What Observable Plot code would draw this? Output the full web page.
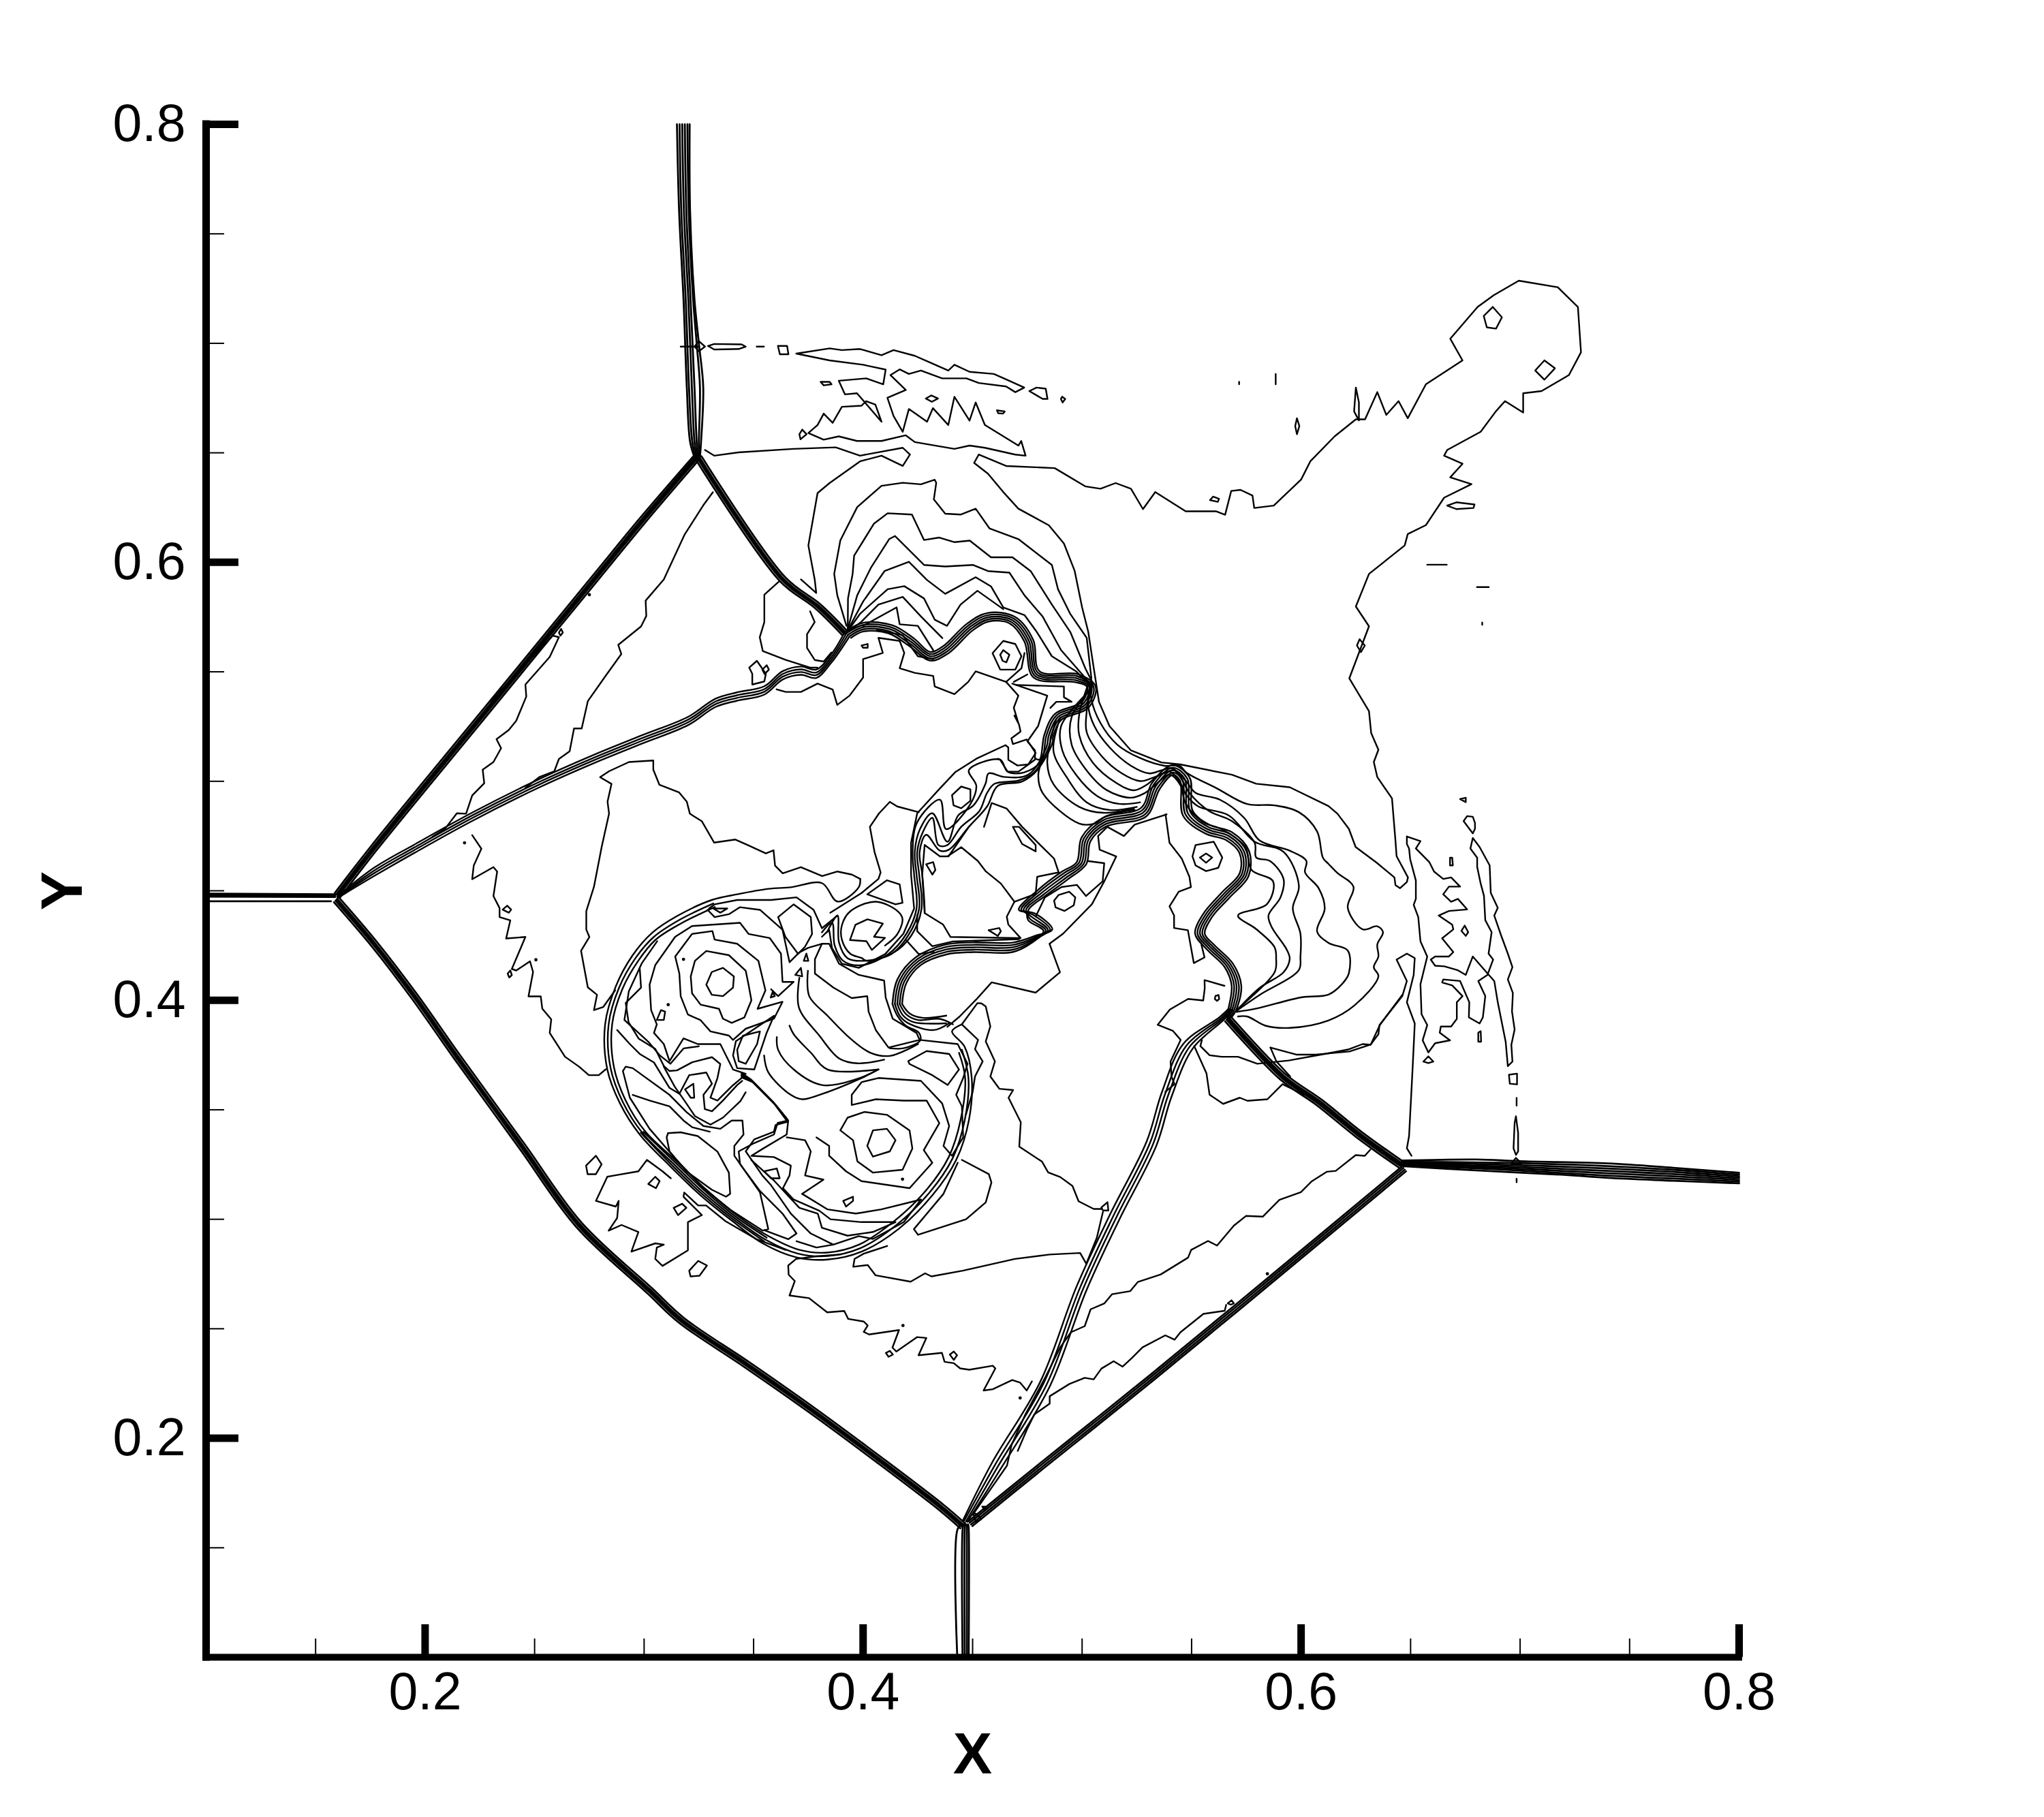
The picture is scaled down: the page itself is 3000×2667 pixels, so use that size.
<!DOCTYPE html>
<html><head><meta charset="utf-8">
<style>html,body{margin:0;padding:0;background:#fff}svg{display:block}</style>
<script src="https://cdn.jsdelivr.net/npm/d3@7"></script>
<script src="https://cdn.jsdelivr.net/npm/@observablehq/plot@0.6"></script>
</head><body><div id="chart"></div>
<script>
// All contour values are (x, y) pairs in thousandths of the axis units.
const majorTicks=[0.2,0.4,0.6,0.8];
const minorTicks=[0.15,0.25,0.3,0.35,0.45,0.5,0.55,0.65,0.7,0.75];
const specks=[275,585.2,584.6,275.1,418.2,251.5,471.7,218.4,318,418.7,418,318.3,218,471.9,250.6,418.5,311,398];

const leftShock1=[100,448.7,159,448.4];const leftShock2=[100,448,159,447.8];const leftShock3=[100,447.3,159,447.2];const leftShock4=[100,445.2,157,445.2];
const topShock1=[315,800,316,760,318,720,319.5,680,321,655,323,648];
const topShock2=[316.2,800,317,760,319,720,320.5,680,322,655,323.5,648];
const topShock3=[317.4,800,318.2,760,320.2,720,321.8,680,323,655,324,648];
const topShock4=[318.6,800,319.3,760,321.2,720,323,680,324,655,324.5,648];
const topShock5=[319.8,800,320.4,760,322.4,720,324,700,325.5,680,325,655,325,648];
const topShock6=[320.8,800,321,760,323,720,325,700,327,680,326,655,325.4,647];
const diag1=[158.8,449,175.8,471,225.8,532,275.8,593,298.8,621,323,649];
const diag2=[159.5,448.4,176.5,470.4,226.5,531.4,276.5,592.4,299.5,620.4,323.5,648.4];
const diag3=[160,448,177,470,227,531,277,592,300,620,324,648];
const diag4=[160.4,447.6,177.5,469.6,227.5,530.6,277.5,591.6,300.5,619.6,324.5,647.6];
const diag5=[161.2,447,178.2,469,228.2,530,278.2,591,301.2,619,325.2,647];
const fanShock1=[323.8,646.6,362.1,591.3,378,579.1,390.5,566.7];
const fanShock2=[324.6,647.2,362.9,591.9,378.8,579.7,391.3,567.3];
const fanShock3=[325,647.5,363.3,592.2,379.2,580,391.7,567.6];
const fanShock4=[325.4,647.8,363.7,592.5,379.6,580.3,392.1,567.9];
const fanShock5=[326.2,648.4,364.5,593.1,380.4,580.9,392.9,568.5];
const lowShock1=[158.4,444.8,175.9,424.3,194,400.7,213.4,373.2,242.9,332.6,269.2,296.3,301.4,266.3,315.9,252.8,345.7,232.6,375.4,211.8,405.2,189.8,434.9,167.1,444.4,158.9];
const lowShock2=[159.1,445.5,176.6,425,194.7,401.4,214.1,373.9,243.6,333.3,269.9,297,302.1,267,316.6,253.5,346.4,233.3,376.1,212.5,405.9,190.5,435.6,167.8,445.1,159.6];
const lowShock3=[159.5,445.9,177,425.4,195.1,401.8,214.5,374.3,244,333.7,270.3,297.4,302.5,267.4,317,253.9,346.8,233.7,376.5,212.9,406.3,190.9,436,168.2,445.5,160];
const lowShock4=[159.9,446.3,177.4,425.8,195.5,402.2,214.9,374.7,244.4,334.1,270.7,297.8,302.9,267.8,317.4,254.3,347.2,234.1,376.9,213.3,406.7,191.3,436.4,168.6,445.9,160.4];
const lowShock5=[160.6,447,178.1,426.5,196.2,402.9,215.6,375.4,245.1,334.8,271.4,298.5,303.6,268.5,318.1,255,347.9,234.8,377.6,214,407.4,192,437.1,169.3,446.6,161.1];
const bottomShock1=[443,100,443,158,445,161];const bottomShock2=[445.4,100,445.4,158,445.8,160.6];const bottomShock3=[446.4,100,446.4,158,446.6,160.6];const bottomShock4=[447.4,100,447.4,159,447.4,160.6];const bottomShock5=[448.2,100,448.2,159,448,160.6];
const brShock1=[448.1,162.1,480.8,188.6,502.7,206.1,530.8,228.7,586.4,274.5,646.1,324.1];
const brShock2=[448.7,161.4,481.4,187.9,503.3,205.4,531.4,228,587,273.8,646.7,323.4];
const brShock3=[449.3,160.6,482,187.1,503.9,204.6,532,227.2,587.6,273,647.3,322.6];
const brShock4=[449.9,159.9,482.6,186.4,504.5,203.9,532.6,226.5,588.2,272.3,647.9,321.9];
const rightShock1=[646,326.8,680,327.3,700,326.5,740,325.5,770,323.5,800,321.2];
const rightShock2=[646,326.3,690,325.8,740,324.3,770,322.6,800,320.4];
const rightShock3=[646,325.9,690,325,740,323.2,770,321.6,800,319.6];
const rightShock4=[646,325.5,690,324.2,740,322.1,770,320.6,800,318.8];
const rightShock5=[646,325.1,690,323.5,740,321,770,319.6,800,318];
const rightShock6=[646,324.7,690,322.8,740,319.9,770,318.6,800,317.2];
const rightShock7=[646,324.3,680,322.3,720,320.3,740,318.9,770,317.6,800,316.4];
const midShock1=[565.3,390.4,590.3,364,607,352.2,625.1,337.6,644.5,323.7];
const midShock2=[566,391.1,591,364.7,607.7,352.9,625.8,338.3,645.2,324.4];
const midShock3=[566.5,391.6,591.5,365.2,608.2,353.4,626.3,338.8,645.7,324.9];
const midShock4=[567,392.1,592,365.7,608.7,353.9,626.8,339.3,646.2,325.4];
const midShock5=[567.7,392.8,592.7,366.4,609.4,354.6,627.5,340,646.9,326.1];
const slip1=[445.6,162.5,458.7,188.5,480.9,225.8,497.6,269.6,512.8,302.3,529.5,335.6,536.4,357.9,546.2,380.1,562.8,392.3,567,396.2];
const slip2=[446.2,162.4,460.2,187.8,482.4,225.1,499.1,268.9,514.3,301.6,531,334.9,537.9,357.2,547.7,379.4,563.4,391.8,567.6,395.9];
const slip3=[447,162,461.6,187.2,483.8,224.5,500.5,268.3,515.7,301,532.4,334.3,539.3,356.6,549.1,378.8,564,391.4,568.2,395.7];
const slip4=[447.6,161.8,463.1,186.5,485.3,223.8,502,267.6,517.2,300.3,533.9,333.6,540.8,355.9,550.6,378.1,564.6,391,568.8,395.4];
const bandLeft1=[160,447.5,177,460.7,195.1,471.1,221.5,485.7,252.1,501,277.1,512.1,299.3,521.1,320.2,529.5,332.7,537.8,342.4,540.6,354.9,543.4,363.3,550.3,371.7,552.4,378.6,551,385.5,558,391.7,568.3];
const bandLeft2=[160,447.2,177,459.4,195.1,469.8,221.5,484.4,252.1,499.7,277.1,510.8,299.3,519.8,320.2,528.2,332.7,536.5,342.4,539.3,354.9,542.1,363.3,549,371.7,551.1,378.6,549.7,385.5,556.7,392.4,567.6];
const bandLeft3=[160,447,177,458.2,195.1,468.6,221.5,483.2,252.1,498.5,277.1,509.6,299.3,518.6,320.2,527,332.7,535.3,342.4,538.1,354.9,540.9,363.3,547.8,371.7,549.9,378.6,548.5,385.5,555.5,393.1,566.9];
const bandLeft4=[160,446.7,177,456.9,195.1,467.3,221.5,481.9,252.1,497.2,277.1,508.3,299.3,517.3,320.2,525.7,332.7,534,342.4,536.8,354.9,539.6,363.3,546.5,371.7,548.6,378.6,547.2,385.5,554.2,393.8,566.2];
const wave1=[391.7,568.3,400.1,572.4,413.5,571.2,423.5,565,430.6,559.1,436.3,561.5,447.5,572,457,576.9,469.5,575,477.7,564.5,480.6,550.2,498.1,548.9,506.2,543.2,502.8,533.5,490.4,528,486.8,520.6,486.5,517.6,479.5,505.1,472.6,499.9,461.5,497.9,456.6,488.5,448.3,479.2,439.2,468.8,435.1,468.3,428.8,475.6,425.8,467.8,427,457.4,428.1,441.9,428.1,439.8];
const wave2=[392.4,567.6,400.1,571.4,413,570.3,422.9,564.2,430.6,558.1,436.9,560.7,448.1,571.2,457,575.9,468.8,574.3,476.7,564.3,479.9,549.5,497.7,548,505.2,543.2,502.1,534.2,489.7,528.7,485.8,520.8,485.1,516.5,478.1,504.1,471.2,500.4,460.1,498.9,456.6,494.7,453.1,486.4,444.8,479.2,438.5,470.9,434.4,470.9,431.6,483.3,427.4,477.1,424.7,467.8,425.6,457.4,426.7,441.9,421.9,429.4,413.6,421.6,401.7,418,399.3,419.3,394.1,421.3,390.3,427.7,390.3,434.2,394.1,440.6,405.8,445,416,440.5,418,437,415.5,430,410,425];
const wave3=[393.1,566.9,400.1,570.4,412.5,569.4,422.3,563.4,430.6,557.1,437.5,559.9,448.7,570.4,457,574.9,468.1,573.6,475.7,564.1,479.2,548.8,497.3,547.1,504.2,543.2,501.4,534.9,489,529.4,484.8,521,483.7,515.5,475.4,503,464.3,502,457.3,503.6,455.9,498.9,450.4,489,443.4,484.4,438.5,472.4,431.6,485.4,426,478.2,423.6,467.8,424.4,457.4,425.6,441.9,420.5,429.4,412.9,421.1,399.3,418,392.8,419.3,389,426.4,388.3,438.7,383.5,431];
const wave4=[393.8,566.2,400.1,569.4,412,568.5,421.7,562.6,430.6,556.1,438.1,559.1,449.3,569.6,457,573.9,467.4,572.9,474.7,563.9,478.5,548.1,496.9,546.2,503.2,543.2,500.7,535.6,488.3,530.1,483.8,521.2,481.3,509.2,473.4,504,466,504.4,462.5,509.9,448.3,505.1,451.7,497.9,449,489.6,437.9,478.2,435.1,491.6,424.7,481.3,422.6,467.8,423.3,457.4,424.4,441.9,419.8,430.4,411.5,421.1,399.3,416,390.9,418,387,425.1,385.8,435.4,381.2,431];
const wave5=[394.5,565.5,400.1,568.4,411.5,567.6,421.1,561.8,430.6,555.1,438.7,558.3,449.9,568.8,457,572.9,466.7,572.2,473.7,563.7,477.8,547.4,496.5,545.3,502.2,543.2,500,536.3,487.6,530.8,482.8,521.4,480.6,509.9,478.5,510.5];
const wallOuter=[360.5,542,364.7,540.8,371.6,540.8,379.2,544.6,386.1,541.9,388.2,534.9,393.8,539.1,400,547.4,400,555.8,409,558.6,407,565.5,416.7,564.1,418.8,558.6,416.7,551.6,423.6,549.5,432,548.1,432.7,543.3,441.7,539.8,448,545.4,451.4,550.2,465.3,545.4,470.9,539.1,468.8,533.6,470.9,526.6,469.1,530,471.2,525.9,471.9,522.7,467.7,519.6,468.4,517,474.7,519.1,478.8,512.9,475.4,507.7,470.5,507.2,466.3,509.8,466.3,515.5,465,516.5,451.7,510.3,442,504.1,435.1,496.8,424.7,485.4,421.9,471.9,421.9,457.4,423.3,441.9,418.4,430.4,410.1,421.1,398,414.8,390.3,416.7,385.8,423.8,384.5,432.2,381.2,429];
const neckA=[504.2,547.4,504.2,537.7,508.4,526.6,516,516.8,526.5,510.6,537.6,507.1,544.5,507.1,547.6,504,561.5,496.8,575.4,489.6,587.9,489,599,485.9,607.3,477.1,610,465,612.5,462.3,616.6,458.1,623.9,451.9,621.3,442.2,628.1,432.4,634.8,433.8,637.4,431.1,634.8,425.5,635.3,420,633.2,415.1,635.3,410.9,624.4,397.7,612.5,390.8,594.8,387.4,583.7,388.4,575.4,392.6,571.2,392.6];
const neckB=[505,544.6,502.8,534.9,505.6,525.2,512.6,515.4,522.3,507.1,530.7,503.6,536.2,505,541,506,547.6,499.9,551.8,494.7,562.9,491.6,574,483.3,581,473,594.8,468.3,602.4,463.6,601.8,458.4,608,451.2,610.8,441.9,607.3,431.5,612.5,426.2,621.3,422.7,621.8,412.3,618.7,407.4,612.5,402.6,600.4,401.4,579.5,396.2,570.5,394.7];
const neckC=[503.6,544.6,502.1,532.1,502.1,522.4,509.1,511.3,518.2,503.6,526.5,500.1,532,501.5,537,503.5,542,505,546,500,549,494.7,558,486.4,568.4,481.8,578.8,471.9,579.5,465.2,585.8,463.6,592,455.3,590.6,447,585.1,438.7,586.5,433.6,593.4,423.2,594.8,419,592,412.8,581,405.6,570.5,395.2];
const neckD=[502.9,544.6,498.7,530.7,498.7,521,504.9,508.5,515.4,499.4,523.6,495.9,529.9,498.7,534,502,540,504.5,545,499,547.6,493.7,553.1,488.5,567,484.4,578.8,472.4,592,467.8,599,452.2,596.2,441.9,599.7,430.4,599.7,420,599,413.9,581,402.4,570.5,395.2];
const neckE=[503,541,495.2,529.3,495.2,516.8,501.5,505.7,511.2,496,522.3,492.5,528.6,494.6,533,498,540,503,545,498,547.2,490,555,481.5,564,478,574.5,470,577.4,459.5,587.2,454.3,584.4,443.9,571.2,438.7,579.5,432.5,587.9,424.2,588.6,419,587.9,412.8,571.2,396.2];
const neckF=[503,541,490.4,525.2,491,514,497.3,502.9,507,493.2,516.8,489.7,526.5,490.4];
const neckG=[490,529,486.9,514,493.2,501.5,502.1,490.4,512.6,486.9,525,488.3];
const neckH=[488,528,484.1,508.5,486.9,498.7,498.7,488.3,509.8,485.6,523.6,487.6];
const neckI=[482,510,480,502.9,482,494.6,498.7,480.7,505.7,480.7,511.2,484.2,524,487];
const south1=[413.4,398.3,415.7,409.6,424.3,419.8,437.5,425.4,450.4,426.4,468.6,426.4,479.4,429.7,486.4,432.4,478.3,439.7,471.1,441.3,480.1,450.6,490.7,458.7,497.5,463,499.8,474.4,509.4,483.3,527,487.9,531.9,499.2,541.3,507.3,549.1,501.7,550.5,486.5,558.2,480.1,568.3,476.8,576.2,468.2,576,456.7,567.4,447,559.3,438,556,430.4,560.5,425.1,568.8,416.8,572.7,406.6,570.2,395.2,568.1,392.1];
const south2=[414.5,398.3,416.7,409.1,424.9,418.9,437.7,424.3,450.4,425.3,468.5,425.3,478.8,428.8,485.4,432.2,477.6,439,472.2,441.3,480.8,449.9,491.3,457.8,498.6,462.8,500.8,473.9,509.8,482.3,527.6,486.9,532.8,498.6,541.3,506.2,548,501.3,549.4,486,557.7,479.1,567.7,475.9,575.1,468,575,457.1,566.5,447.6,558.3,438.4,554.9,430.4,559.6,424.6,567.9,416.3,571.6,406.6,569.3,395.2,567.6,392.1];
const south3=[415.6,398.3,417.7,408.7,425.4,418,437.9,423.2,450.4,424.2,468.4,424.2,478.1,427.9,484.4,432,476.8,438.2,473.3,441.3,481.6,449.1,492,456.9,499.7,462.6,501.8,473.5,510.1,481.3,528.1,485.9,533.7,497.9,541.3,505.1,546.9,501,548.3,485.4,557.3,478.1,567,475,574,467.8,574,457.4,565.6,448.1,557.3,438.7,553.8,430.4,558.7,424.2,567,415.9,570.5,406.6,568.4,395.2,567,392.1];
const south4=[416.7,398.3,418.7,408.3,426,417.1,438.1,422.1,450.4,423.1,468.3,423.1,477.4,427,483.4,431.8,476,437.4,474.4,441.3,482.4,448.3,492.7,456,500.8,462.4,502.8,473.1,510.4,480.3,528.7,484.9,534.6,497.2,541.3,504,545.8,500.7,547.2,484.9,556.9,477.1,566.3,474.1,572.9,467.6,573,457.7,564.7,448.6,556.3,439,552.7,430.4,557.8,423.8,566.1,415.5,569.4,406.6,567.5,395.2,566.5,392.1];
const south5=[417.8,398.3,419.7,407.8,426.5,416.2,438.3,421,450.4,422,468.2,422,476.8,426.1,482.4,431.6,475.3,436.7,475.5,441.3,483.1,447.6,493.3,455.1,501.9,462.2,503.8,472.6,510.8,479.3,529.2,483.9,535.5,496.6,541.3,502.9,544.7,500.3,546.1,484.3,556.4,476.1,565.7,473.2,571.8,467.4,572,458.1,563.8,449.2,555.3,439.4,551.6,430.4,556.9,423.3,565.2,415,568.3,406.6,566.6,395.2,565.9,392.1];
const southTail1=[413.4,398.3,415.6,393,419.5,388.4,425.4,385.3,426.1,381.7,418.4,378.1,412.2,378.1];
const southTail2=[414.5,398.3,417,392.5,421.2,389.2,432.3,386.4,439.2,389.5];
const southTail3=[415.6,398.3,418.3,393,423.2,390,437.9,389.5];
const southTail4=[416.7,398.3,419.8,393.5,425,391,435,391.5,441,389];
const southTail5=[417.8,398.3,421.2,394,427,392,438,393];
const fan2=[392.4,571,388.2,585,386.8,594.7,389.6,610,397.3,625.2,408.4,634.9,418.1,636.3,426.4,635.6,432.7,637.7,433.4,636.3,432.3,628.7,437.5,622.2,444.5,621.8,451.4,624.5,457.7,615.5,470.9,610.6,486.2,598.8,489,587.7,494.5,576.6,502.1,565.5,504.2,547.4];
const fan3=[393,570,393.1,583.5,395.2,594.6,395.9,603,404.9,617.6,411.2,622.4,422.3,621.8,427.8,610.2,434.8,611.3,441.8,609.2,448.7,609.9,458.4,602.3,468.2,602.3,476.5,596,486.2,580.7,494.6,568.2,501.5,551.5,505,544.6];
const fan4=[393,569.6,397.3,584.9,403.5,597.4,411.9,610.6,414.6,612,427.8,598.8,437.5,598.1,450.1,598.8,457,596,466.8,595.3,473.7,584.9,482,575.2,490.4,559.9,500.1,548.8,503.6,544.6];
const fan5=[393,569,400,582.1,409.8,596,420.9,600.2,429.2,591.9,437.5,585.6,451.4,593.2,458.4,589,464,579.4,473.7,575.9,479.3,568.2,486.2,557.1,497.3,550.2,502.9,544.6];
const fan6=[393,568.6,398.7,576.6,411.2,587.7,418.8,589.1,427.8,583.5,432.7,573.8,438.3,571,444.5,580.7,452.2,587,459.1,582.1,464,578.6];
const fan7=[393,568.4,398.7,572.4,407,580.7,418.1,584.2,426.5,575.2,436.2,565.4];
const fan8=[400,571,415.3,579.4,416.7,571.7,425,571,432,559.9];
const underWave=[406.3,569,418,566.8,425,557.1,432,555.8];
const envelopeOuter=[452.8,649.2,465.3,644,487.5,643,501.4,634.7,508.4,633.6,515.3,636.2,522.3,633.6,527.8,624.3,533.4,632.1,547.3,623.3,561.1,623.3,565.3,621.7,568.1,632.6,572.3,633.1,577.8,630.5,578.6,624.8,587.5,625.9,600,637.8,604.2,646.1,615.3,657.5,625,665.3,629.2,665.3,634.8,677.7,638.9,667.3,644.5,673.6,648.7,665.8,657,681.3,673.7,692.2,668.1,702.1,680.6,716.6,688,722,699.4,728.6,717.2,725.6,726.4,716.6,727.8,695.9,722.3,685.5,709.8,678.2,701.4,677.2,701.4,668.4,693.1,673.6,688.9,668.9,682,659.6,666.7,651.3,665.3,648.7,673.7,645,668.1,638.8,677.8,635.7,665.3,629.5,657,617,648.7,612.9,647.3,607.7,631,594.7,625,579.8,631,570.8,622,547,631,532,632,522,635.3,514.4,633.2,508.8,634.8,501.9,641.5,492.2,643.1,472.7,643.6,465.8,648.8,456.1,648.3,454,645.2,451.2,643.1,452.6,642.6,456.1,634.3,463,624.9,470,621.8,478.3,616.6,485.2,612.5,488.7,594.8,497.3,579.5,498.9,568.4,503,544.8,507.7,536.2,508.6,522.3,514.1,512.5,525.2,507.7,536.3,504.9,554.4,502.8,568.3,500,579.4,496.6,596.1,491.7,608.6,484.8,616.9,470.9,624.5,463.9,632.2,457,640.5,450.7,645.4,452.8,649.2];
const envelopeLeft=[327.8,651.3,332,648.7,343.1,650.2,368.1,651.8,387.5,652.5,398.6,648.7,418.1,652.3,421.4,649.2,418.1,644,408.4,648.7,398.6,646.1,384.7,636.2,379.2,631.6,375,607.7,377.9,592.2,378.6,586,371.6,592.2];
const westA=[331.4,632,327,626,318.4,612.5,309,592.2,300.7,582.5,301,575.5,298.6,570.7,288.2,562.3,289.6,558.1,282.6,548.4,274.3,536.6,271.5,524.1,268,524.1,266,513.7,261.1,510.2,259,504.6,252.1,501.9,245.8,497];
const westB=[229.8,536.6,258.3,566.5,261.1,565.8,256.9,556.8,245.8,544.2,246.2,538.7,241.6,527.6,238.2,523.4,232.6,519.2,234.7,515.1,231.2,508.8,226.3,505.3,227,499.1,221.5,493.5,218.7,485.2,214.5,485.4,209,478.2,203.4,474.7];
const nearFan1=[361.9,591.5,354.9,585.2,354.9,572.7,352.8,565.8,354.2,559.5,364.7,555.4,375.8,551.9,379.2,551.9];
const nearFan2=[375.8,577.6,377.9,572.7,374.4,567.2,374.4,560.9,377.9,555.4,382,554.7,385.5,558.8];
const bigWest=[398.7,455.4,394.9,457.4,388.3,458.8,381.3,456.7,371.6,460.8,363.3,458,359.8,461.5,359.1,468.5,355.6,467.1,348,470.6,341.7,473.4,332,472,326.4,481.7,320.9,485.2,319.5,490.7,316,494.9,307,498.4,304.2,505.3,304.2,509.5,293.1,508.8,284,504.6,279.9,501.9,285.1,498.8,283.3,490.7,284,485.2,280.6,469.9,277.1,451.8,273.6,440.7,273.6,432.3,275,428.9,271.2,422.6,274.3,405.9,278.5,402.5,277.1,395.5,281.3,396.9,286.8,404.6];
const jagWest=[221.5,475.4,225.7,469.2,222.2,461.5,221.5,455.3,231.2,460.8,232.9,458.8,231.2,447.6,234,442.1,234,438,238.9,436.5,237,428.2,245.8,428.9,239.6,414.3,241.6,413.6,247.9,417.8,249.3,412.9,247.2,401.8,252.8,401.8,253.5,396.2,257.6,391.3,256.9,385.1,263.9,374.2,270.3,369.7,274.8,365.8,279.3,365.8,282.5,368.5];
const ring1=[398.7,455.4,398,451.6,388.3,445.1,381.2,453.5,367,451.6,356.7,450.9,342.5,448.4,330.9,445.8,315.5,438.7,303.8,430.9,294.8,420.6,287.1,406.4,282.2,389,283.2,368.4,289,352.9,298,338.7,311.6,324.5,325.8,310.9,340,299.4,354.2,289,369.6,282.6,383.8,281.6,399.3,285.2,416.1,295.5,431.6,310.9,442.5,327.1,448.3,345.2,449.6,364.5,446.4,378.7,440.6,385.8,445.1,389];
const ring2=[331.6,444.2,316.1,436.7,304.5,429,296.1,419.3,288.6,405.8,283.8,389,284.7,369,290.3,353.5,299.3,339.3,312.9,325.8,327.1,312.2,341.2,300.6,355.4,290.7,370.3,284.3,383.8,283.2,398.7,286.8,415,297.2,430.3,312.2,440.8,327.7,446.4,345.2,448.1,364.5,445.1,377.4];
const ring3=[332.3,442.6,316.7,435,305.2,427.6,297.3,418,290.1,405.2,285.4,389,286.2,369.6,291.6,354.2,300.6,340,314.2,327.1,328.4,313.5,342.4,301.8,356.6,292.4,371,286,383.8,284.8,398.1,288.4,413.9,298.9,429,313.5,439.1,328.4,444.5,345.2,446.6,364.5,443.8,376];
const ring4=[298.5,339.5,312.2,325.2,326.4,311.6,340.6,300,354.8,289.9];
const ring5=[299.7,339.9,313.6,326.5,327.8,312.9,341.8,301.2,356,291.6];
const upperBand=[329.6,441.9,332.2,443.8,342.5,445.8,358,445.8,369.6,447,377.4,441.3,381.2,432.9,388.3,438.7];
const upperBand2=[329,441.3,332.2,438,338.7,439.3,343.8,442.5,352.9,441.3,363.2,432.2,366.4,417.4,370.9,421.9,375,424,381.2,425.8];
const ringIn1=[306,427,299,417,293,404,291,391,292.6,389.5,302,381,307,375,312,371,318,378,325,379];
const ringIn2=[298,414.8,298.6,405.8,291.6,398.8,292.9,390,297.5,382.5,305.1,377.8,309,370,311.6,367.7,315,368,322,371.7,331,374,334.8,370.9,333.5,364.5,330.3,355.5,333.5,354.2,340,360.7,344.5,364.5];
const ringIn3=[287.7,386.4,293.5,380,298,375.5,304.5,371.6,311.6,360,316.1,357.3,320.6,365.8,328.4,367,331,361.9,327.1,356.8,327.7,350.3,331,349.3,336,354.2,342.5,361.3,344.8,363.2];
const ringIn4=[309,369.7,314,360.5,319.3,352.9,323.2,347.1,330.3,343.2,336,346.4,344,354,346.4,358];
const crescentA=[290.3,367.7,291.6,369.7,294.8,369,311.6,356.8,319.3,349,327.1,342.6,334.8,341.3,340,345.1,344.9,345.1,345.4,338.7,341.2,333.5,341.2,329,352.9,312.3,356.7,295.5,354.1,294.8,340,303.9,327.1,314.2,314.8,327.1,302.5,341.3,293.5,355.5,290.3,367.7];
const crescentB=[294.8,356.8,302.5,354.2,311.6,351.6,318,345.1,322,342,330,340];
const vortexA3=[314.2,420,321.9,430.3,331.2,431.6,332.2,427.7,342.5,425.8,352.2,418,355.4,404.5,351.8,396.1,363.2,399.3,359.3,391.6,346.4,387,340.6,381.9,338.7,383.9,330.3,385.8,325.8,390.9,320,393.5,316.7,401.9,316.1,412.2,314.2,420];
const vortexA4=[346.4,366.4,340.6,368.4,337.4,374.8,334.8,380,324.5,380,318,382.6,311.6,372.2,309,380,304.5,385.1,305.8,389,303.2,395.5,302.5,407.1,305.1,416.1,314.2,429,321.9,433.9,343.8,435.4,347.7,430.3,357.4,428.4,362.5,421.3,363.2,408.4,368.3,408.4,361.2,401.9,358,405];
const crescentEast=[365.1,345.1,359.3,352.9,349,363.2,344.5,365.8];
const shocklet1=[344.5,366.8,348.6,364,358.8,353.7,364.6,346.6];const shocklet2=[344.5,366.2,349,363.5,359.2,353.2,365,346.1];const shocklet3=[344.5,365.4,349.4,363,359.6,352.7,365.4,345.6];const shocklet4=[344.5,364.8,349.8,362.5,360,352.2,365.8,345.1];
const lowerB1=[365.7,345.1,361,344,359.3,338.7,350.3,334.8,343.2,331,343.8,325.2,352.9,312.9,363.2,302.6,369.6,293.5,365.8,290.9,354.8,295];
const lowerB2=[365.5,344.5,360,343,359.3,340,350.3,336.5,346.4,331,354,320,358,315.5,367,302.6,376.1,293.5,386.4,288.4,378.7,287.1,369.6,290];
const lowerB3=[365.8,345,365.1,338.7,354.2,332.2,349,329,359.3,328.4,367,324.5,366.4,320,363.4,314.2,368.3,309,380,303.9,385.1,300,399.3,298.7,414.8,298.7,404.5,294.2,392.9,292.5,381.2,296.1,379.3,302.6,370.9,305.2,359,318,349,327];
const lowerC=[372.2,311.6,381.9,318.1,373.5,320,376.1,331,373.5,336.1,365.1,337.4];
const lowerD=[426.4,309,408.3,304.5,396.7,302.6,383.8,304.5,372.2,311.6];
const lowerE=[426.4,309,418.6,298.7,404.5,291,398,292.3,386.4,288.4];
const vortexB3=[378.7,337.4,384.5,333.5,384.5,329,392.2,321.9,399.3,317.4,421.2,314.2,431.6,325.8,427.7,331.6,434.8,343.9,429,354.2,418.6,354.2,405.8,354.8,394.8,352.2,394.8,356.8,399.3,362.6,407,364.5,426.4,363.2,436.1,352.9,439.3,342.6,436.7,333.5,440.6,329,445.7,337.4,445.1,351.6,442.5,356.8,445.7,364.5,447.7,371,443.2,380,425.8,381.9];
const eastLobe=[445.1,327.1,457.4,320.6,458.6,316.8,456,307.7,447,300,425.1,292.9,423.2,295.5,436.7,311.6,443.2,325.8];
const islandLoop=[445.1,389,452.2,398.7,454,398.6,456,397.2,458.1,388.1,456,381.2,460.2,372.1,458.1,365.2,462.2,359.6,468.5,359,466.4,355.5,472,344.3,471.3,333.2,481.7,326.3,484.5,321.4,490,319.3,495.6,315.2,498.4,308.2,505.3,304.7,508.8,304.7];
const eastWavy=[445.1,389,452.5,381.9,451.1,377.7,454.6,372.1,451.1,365.2,450,358,447,348];
const stripe1=[381.2,425.8,384.5,425.8,389,416.7,398,411.6,409.6,409,410.3,401.3,413.5,391.6,424.4,385.1,425.8,381.9,411.6,378.4,405.8,386.4,402.5,394.8,401.9,401.9,394.8,401,386.4,405.8,378,412.2,378,418.7,381.2,425.8];
const stripe2=[374.8,413.5,375.4,401.9,383.8,392.9,394.1,382.6,403.2,376.1,412.2,374.6,425.1,380];
const stripe3=[370.9,410.3,370.7,396.7,380,383.9,389,373.5,397.4,371.2,409.6,372.9];
const stripe4=[366.4,388.4,368.3,384.5,376.1,376.1,383.8,368.4,407,368.4];
const stripe5=[360.6,383.2,361.2,377.4,368.3,368.4,381.2,361.3,397,364,407,368.4];
const stripe6=[354.8,374.8,356.7,367.1,367,356.8,372.2,354.8,380,356.8,399.3,364.5,407,368.4];
const centerLine=[538.6,484.9,524,480.2,519.1,475,511.5,479.2,507.3,475,508,468.8,515.6,465.7,510.1,454.3,504.5,443.9,491.3,430.4,485.1,425.8,489.9,412.8,478.8,403.5,458.7,408.2,451.7,400.4,444.1,392.6,438.5,387.9];
const rightInner=[538.1,484.9,539.9,471.9,545.5,464.7,549,456.4,549.7,451.7,544.1,449.6,539.9,442.9,542,438.7,542,433,548.3,432,551,417,555.9,419.6,554.5,425.3];
const vortexDOuter=[478.8,438.2,483,447,490.6,451.7,497.6,452.7,501.8,447.6,509.4,454.3,510.1,462.6,502.4,463.6];
const landA=[428.1,470.9,435.1,465.7,438.5,465.7,444.8,469.9,452.4,463.6,455.9,459,462.9,453.3,469.1,445,465.6,438.2,466.3,434.6,471.9,428.4,439.9,428.9,436.5,434.6,428.1,439.8,427,457.4,428.1,470.9];
const landB=[455.2,479.2,458.7,490.1,465.6,487.5,472.6,479.2,480.9,470.9,487.2,464.7,489.3,458.4,479.5,456.4,478.8,448.6,469.1,445];
const landC=[448.3,479.2,439,465.7];
const lowerWall=[424.7,438.8,424.7,431.5,431.6,424.7,440.6,426.8,471.2,427.9];
const lowerWall2=[419.8,427.3,425.4,421.1,432.3,422.1];
const northEastSide=[425.4,485.9,415.6,488.5,412.2,490.6,407.3,485.4,403.1,479.2,405.2,467.8,408,458.4,407,455.4,399.3,449,385,440];
const neckIn1=[465.3,545.4,472.3,551.6,473.7,558.6];
const neckIn2=[468.8,545.4,475,548.8];
const neckIn3=[470,544,491.7,543.3,491.7,538.4,495.2,536.3,488.2,536.3,485.5,533.5];
const neckIn4=[468.1,544.6,484.1,539.1,479.9,525.2,475,518.2,478.5,514.1,478.5,509.9,473.7,506.4,470.9,504.4,466,504.4,462.5,509.9,461.5,510.3];
const groupN1=[369.5,695.3,384.7,697.7,390.3,696.9,398.6,697.4,408.4,694.6,413.9,696.9,423.6,694.3,430.6,691.2,438.9,687.6,441.7,690.2,448.6,687,459.7,686,466.7,682.9,473.6,679.8,469.5,677.7,465.3,680.3,452.8,681.9,447.2,684,436.1,684,426.4,687.6,420.9,686,416.7,688.1,412.5,685.5,419.5,678.7,411.1,675.1,413.9,666.8,418.1,659.6,420.9,670,429.2,664.2,431.9,670.4,438.9,662.7,441.7,675.6,448.6,664.7,451.4,673,455.6,662.7,470.9,653.3,472.2,655.4,474.2,648.7,469.5,649.2,455.6,652.3,448.6,653.3,441.7,651.8,423.6,654.9,419.5,658,408.4,655.4,397.2,655.4,388.9,657.5,382,656,375,659,379.2,662.7,382,667.9,386.1,663.7,390.3,671,399.2,671.5,401.4,673.6,405.6,672,408.4,664.2,397.2,677.2,391.7,676.7,388.9,682.9,401.4,684,409.2,681.3,410.3,688,400,690.2,384.7,692.2,369.5,695.3];
const fringeEast=[648.3,474.8,654.5,472.7,652.4,469.3,658.6,463,660.7,458.8,664.9,455.4,668.5,456.1,672.6,451.9,667.5,451.9,664.9,448.4,668.5,445,671.6,446.3,675.8,441.5,667.5,440.8,662.8,438.7,669,434.5,669.5,432.4,664.4,428.3,669.5,422,667.5,420,661.2,420,659.2,418.6,661.2,415.8,665.4,415.5,671.6,413.7,675.2,411.6,678.4,420,685.1,412.3,688.2,408.8,689.8,399.1,693.4,381.1,694.4,369.9,696.5,372,696,379.7,697.5,386.6,696.3,394.9,696.7,403.3,694.4,409.5,696.5,415.1,694.4,421.3,691.3,429.7,688.2,438.7,689.8,442.2,686.6,449.1,686.1,461.6,681.5,470,678.4,474.1,677.3,469.3,680.4,465.1,680.4,460.9,682,453.3,683.5,447.7,684.1,436.6,687,431.1,685.6,421.3,687.7,418.6,685.1,411.6,680.9,408.8,684.1,401.9,683,392.2,681.5,389.4,676.6,392.2,676.8,399.1,672.6,408.8,664.9,409.5,664.4,408.1,669,406.8,673.7,401.9,671.1,399.1,671.1,391.5,668.5,388,663.8,388,663.3,385.2,668,381.7,661.2,380.4,658.1,376.2,655.5,381.7,657.6,388.7,655,393.6,654.5,407.4,657.6,420,654.5,426.9,653.5,438,651.4,443.6,652.4,446.3,652.4,454.7,649.8,464.4,649.3,469.3,648.3,471.3,648.3,474.8];
const rightVertical=[612.5,375.8,621.8,377.6,628.1,380,631.7,379.7,635.3,384.5,635.8,388.7,646.2,401.9,648.3,408.8,643.6,418.6,648.3,421.3,651.9,419.3,651.4,411.6,648.3,399.1,651.9,389.4,650.9,368.6,649.3,338,648.3,332.4,650.4,329];
const rightVerticalWest=[612.5,375.8,594.3,372.5,580,371,571.2,374.2,563.7,374.2,558.2,374.9,554,379.1,554.7,381.9];
const triangleDown=[509.5,303.3,506.7,291.5,501.9,279.7,499.1,284.6,485.2,283.9,469.3,281.9,445.5,276.5,431.2,273.9,428.3,275.3,421.7,271.5,405.7,274.4,402.1,279.1,395.5,278.3,396.1,281.9,400.3,284.3,411,287.8];
const jagSouth=[369.4,281.9,365.8,278.9,366,274.7,368.8,271.8,366.4,265.2,375.3,264,383.6,257.5,391.4,258.1,393.2,254.5,400.3,253.3,402.1,251.5,400.3,248.6,402.7,247.4,416.4,249.4,413.4,241.4,415.2,239.6,424.7,246.2,428.9,245.8,425.3,237.9,436,239,437.2,234.9,441.4,234.3,444.3,231.9,448.5,231.3,459.2,233.1,460.4,231.9,455,221.8,459.2,222.4,468.1,226.6,471.7,225.4,474.7,221.8,477.1,226];
const jagSouthTop=[369.4,281.9,378,283,390,284];
const jagSouthWest=[312.2,318.7,308.4,321.9,301.3,327.1,297.4,321.9,286.4,320,283.2,319.4,278,308.4,287.1,305.8,288.4,308.4,287.7,300.6,283.8,294.8,289.7,297.4,297.4,294.2,294.2,285.2,305.1,289,309,288.4,305.8,287.1,305.1,281.9,308.4,278.7,320,285.8,320,298.7,326.4,301.9,318,310.3,318.3,312.2,324.7,306.3,328.3,306.3,337.2,299.1,351.5,290.8,364.6,286];
const slipEast1=[631.6,331.8,629.1,329,624.9,329.3,615.8,322.1,611.7,321.7,604.7,317.2,599.9,312.4,590.1,308.9,582.5,301.2,574.8,301.5,569.3,297.1,561.6,288,557.5,290.1,549.8,286,548.4,282.5,535.9,274.8,525.5,271.4,522,267.2,513.7,265.8,510.2,261.6,503.9,258.9,501.2,251.2,494.9,248.4,490,241.5,483.1,227.6,474.1,210.9,467.8,197,465.7,187.5,450,165];
const slipEast2=[565.8,260.9,565.1,258.2,555.4,256.8,544.9,248.4,542.2,245,538,247,527.6,241.5,522.7,236.6,518.5,232.7,514.4,235.2,508.8,231.8,505.3,226.9,501.2,227.6,494.2,224.8,485.2,219.2,485.2,215.8,478.2,210.9,474.8,204,470.6,194.2];
const midWest=[565,406.6,555.9,409.2,556,405.5,555.3,399.9,548.4,400.6,540.1,395.8,534.5,388.8,541.5,386,545,381.9,540.4,372.1,540.8,365.2,542.2,361.7,538,358.2];
const midLoop=[551.2,379.1,556.8,366.6,558.2,356.9,564.4,352.7,572,355.5,575.5,354.1,584.6,354.8,591.5,361.7,601.3,356.9];
const midLoop2=[586,378.4,588.7,372.1,595,365.2];
const midLoop3=[586,378.4,597.8,375.2,606.8,375.2,622.1,376.6,631.8,379.8,636,388.8,646.4,402.7];

const shockLines=[leftShock1,leftShock2,leftShock3,leftShock4,topShock1,topShock2,topShock3,topShock4,topShock5,topShock6,diag1,diag2,diag3,diag4,diag5,fanShock1,fanShock2,fanShock3,fanShock4,fanShock5,brShock1,brShock2,brShock3,brShock4,rightShock1,rightShock2,rightShock3,rightShock4,rightShock5,rightShock6,rightShock7,midShock1,midShock2,midShock3,midShock4,midShock5,bottomShock1,bottomShock2,bottomShock3,bottomShock4,bottomShock5,lowShock1,lowShock2,lowShock3,lowShock4,lowShock5];
const smoothLines=[slip1,slip2,slip3,slip4,bandLeft1,bandLeft2,bandLeft3,bandLeft4,wave1,wave2,wave3,wave4,wave5,neckA,neckB,neckC,neckD,neckE,neckF,neckG,neckH,neckI,south1,south2,south3,south4,south5,southTail1,southTail2,southTail3,southTail4,southTail5,ring1,ring2,ring3,ring4,ring5,stripe2,stripe3,stripe4,stripe5,stripe6];
const jaggedLines=[wallOuter,fan2,fan3,fan4,fan5,fan6,fan7,fan8,underWave,envelopeOuter,envelopeLeft,westA,westB,nearFan1,nearFan2,bigWest,jagWest,upperBand,upperBand2,ringIn1,ringIn2,ringIn3,ringIn4,crescentA,crescentB,vortexA3,vortexA4,crescentEast,shocklet1,shocklet2,shocklet3,shocklet4,lowerB1,lowerB2,lowerB3,lowerC,lowerD,lowerE,vortexB3,eastLobe,islandLoop,eastWavy,stripe1,centerLine,rightInner,vortexDOuter,landA,landB,landC,lowerWall,lowerWall2,northEastSide,neckIn1,neckIn2,neckIn3,neckIn4,groupN1,fringeEast,rightVertical,rightVerticalWest,triangleDown,jagSouth,jagSouthTop,jagSouthWest,slipEast1,slipEast2,midWest,midLoop,midLoop2,midLoop3,
[588.4,686,588.4,681.3],[571.7,682.4,571.7,681.3],[351.4,698.5,354.7,698.5],[316.7,698.5,325,698.5],[698.4,355.4,698.4,351.9],[698.4,318.5,698.4,316.9],[657.6,598.9,666.5,598.9],[680.3,588.7,685.7,588.7],[682.7,572.5,682.7,571.5]];

// small closed islands
const vortexA1=[328.4,407.1,330.9,412.9,336,414.8,341,410.9,340.6,405.8,336,401.9,330.9,402.5];
const vortexA2=[321.3,410.9,323.2,418,328.4,422.5,338.7,420.6,346.4,413.5,347.7,407.1,349,400,345.8,392.2,340,389.7,336,391.6,334.2,396.1,325.8,398,321.9,403.2];
const vortexB1=[401.9,333.5,404.5,340.6,410.9,341.3,414.8,336.1,412.2,331,404.5,328.6];
const vortexB2=[389.6,340.6,392.9,346.4,400.6,349,410.9,347.7,421.2,340.6,422.5,332.3,418,322.6,404.5,321.3,397.4,326.4,395.4,336.1];
const vortexC1=[553.8,465.2,556.6,467,559.4,465.2,556.6,462.8];
const vortexC2=[550.4,465.7,551.8,470.9,560.1,472.4,564,465.2,562.2,460.5,556.6,459,551.8,461.6];
const vortexD1=[487.2,445.5,489.3,448.1,494.1,449.6,496.9,447,496.2,443.4,492,440.8,487.9,442.4];
const vortexE1=[440.6,493.7,444.8,497.6,449,496.3,449,491.1,444.8,487.7,441.3,489];
const vortexF1=[459.1,558.5,464,564.1,469.5,562.7,472.3,557.1,469.5,551,462.6,551];
const vortexF2=[462.6,557.8,464,559.9,466.8,557.8,465.4,554.3,463.7,555];
const blobIsle1=[687.5,716.6,691.7,711.9,689,706.7,684.8,707.3,683.4,712.5];
const blobIsle2=[711.1,692.2,715.9,688.6,711.1,683.4,706.9,687.6];
const lensA=[310.9,339.3,316.7,339.7,324.5,338,333.5,330.9,338.7,321.3,339.3,311.6,337.4,310.3,330.9,313.5,319.3,321.9,311.6,331,310.3,337.4];
const lensB=[342.5,377.4,345.1,383.8,352.9,385.8,351.6,380,346.4,371,343.2,372.2];
const lensBOuter=[340.6,374.8,341.9,381.3,359.3,392.9,355.9,385,350.3,368.4,342.5,369];
const isleUpper=[361.2,438,368.3,443.8,376.1,438,376.7,430.3,373.5,424.5,370.3,421.2,364.5,429];
const isleB5=[420.6,372.2,429,376.8,439.3,375.5,443.8,368.4,438.6,361.3,431.6,365.8,421.2,370.9];
const isleC=[401.9,448.4,410.9,454.8,416.7,452.9,418,444.5,414.8,443.8,405.8,447];
const isleVortexInner=[394,427.5,396.5,434.5,402,437,409,435,405,429,410,428.5,404,423,401.5,427];
const isleList=[[261.1,567.9,262.1,569.6,262.9,567.9,261.8,566.5],[235.4,441.4,237.5,443.2,239.3,441.4,238.2,440],[237.7,412.2,238.9,413.6,239.6,411.5,238.4,410.4],[348,551.9,351.5,555,355.6,549.1,354.9,545.6,349.4,544.2,349.4,549.1],[329.2,698.8,332,699.7,344.5,699.5,346.4,698.5,343.1,697.4,332,697.2],[361.1,698.8,365.3,698.8,365.9,695,362,695],[325,701,327.8,698.5,325,696.4,323,698.5],[380.6,682.4,384.7,682.4,385.6,681.3,382,680.8],[479.2,679.8,483.4,679.3,484.2,674.6,482,674.6,475.9,678.2],[490.9,675.6,492.3,674.6,491.1,673,490.3,674.6],[431.1,676.2,434.2,674.8,431.4,673.3,428.6,674.8],[461.1,669.4,464.7,668.9,463.9,667.9,461.7,668.1],[372.2,660.6,374.2,658.5,371.4,656.2,370.9,658.5],[598.1,665.8,599.2,662.2,598.1,658.5,597.3,662.2],[625,679.8,626.4,673,626.4,664.8,624.2,668.9],[666.7,625.9,670.9,627.4,679.2,626.4,678.7,624.8,670.9,624.3],[559.8,630,562.5,629,562,627.6,558.4,628.4],[626.7,564.9,629.1,562,627.3,559,625.5,562],[672.6,491.9,675.2,492.5,675.2,490.5],[674.2,481.8,675.8,484.1,678.4,483.8,679.4,481,679.4,478.3,678.4,476.2],[668,465.1,669,465.1,669.3,461.6,668,461.6],[673.2,431.7,674.7,434.1,676.3,431.1,675.2,429.4],[680.9,385.2,682,385.9,682.2,381.1,680.9,381.1],[655.8,372,658.1,374.4,660.4,372,658.1,371.3],[694.9,366,698.6,366.5,698.6,361.6,695.3,361.9],[698.1,347,699.1,339.4,699.1,331,698.1,329.4,697,332.4,697.5,344],[696,325.5,698.1,328,700.6,325.5],[331.6,441.9,338,441.9,334.8,440],[374.1,421.3,375,418,372.9,418],[371.6,414.8,372.2,410.9,369,411.6],[358.7,403.8,359.7,401.9,357.8,401.3],[307.7,395.5,309.6,394.8,309,391,305.8,391],[318.7,359.3,322.5,361.9,322.9,355.5,321.3,355.5],[354.8,321.9,360.6,323.2,361.9,318.7,358,318.7],[390.9,308.4,395.4,310.3,395.4,308.4,392.2,305.8],[399.3,562,402.1,562.7,402.1,561,400,561],[468.4,479.2,471.2,479.2,478.8,470.9,478.8,468,472.6,471.4],[428.8,462.1,432,463.1,433,459.5,431.6,457.4],[457.3,432,462.2,433,462.9,431.5,461.5,429.4],[508.8,305.4,511.6,307.8,512,304,509.5,304],[560.9,402,562.3,402.4,562.6,400.6,561.6,399.7,560.6,400.6],[566.5,261.6,568.2,263,569.3,261.6,567.9,261],[320.6,276.5,324.7,281,328.7,278.9,325.3,274.2,321.2,273.9],[410.4,239,412.2,239.9,413.6,238.2,411.6,237.2],[439.6,238.2,441.4,239.6,442.9,237.9,441.4,235.8],[273.5,324.5,278,329,280.6,325.1,278,320.6,274.2,320.6],[301.9,316.1,305.1,319.4,307.1,317.4,305.4,314.2],[313.5,305.2,317.4,307.1,319.3,305.2,315.5,301.9],[354,551,356,553,357,551,355,549],[450.3,165.9,452.1,165.3,453.9,163,451.5,161.8],[454.4,168.8,456.2,168.8,455.6,167]];
const closedLoops=[vortexA1,vortexA2,vortexB1,vortexB2,vortexC1,vortexC2,vortexD1,vortexE1,vortexF1,vortexF2,blobIsle1,blobIsle2,lensA,lensB,lensBOuter,isleUpper,isleB5,isleC,isleVortexInner,...isleList];

function toRows(list){
  const out=[];
  list.forEach((a,id)=>{for(let i=0;i<a.length;i+=2) out.push({id,x:a[i]/1000,y:a[i+1]/1000});});
  return out;
}
const shockRows=toRows(shockLines);
const smoothRows=toRows(smoothLines);
const plainRows=toRows(jaggedLines.concat(closedLoops.map(a=>a.concat(a.slice(0,2)))));
const speckRows=[];
for(let i=0;i<specks.length;i+=2) speckRows.push({x:specks[i]/1000,y:specks[i+1]/1000});

const black="#000";
const chart=Plot.plot({
  width:3000,height:2667,marginLeft:302,marginRight:448,marginTop:182,marginBottom:235,
  style:{background:"#fff",fontFamily:"'Liberation Sans',Arial,sans-serif",color:black},
  x:{domain:[0.1,0.8],label:null},
  y:{domain:[0.1,0.8],label:null},
  marks:[
    Plot.line(plainRows,{x:"x",y:"y",z:"id",stroke:black,strokeWidth:2.4,strokeLinejoin:"round",curve:"linear"}),
    Plot.line(smoothRows,{x:"x",y:"y",z:"id",stroke:black,strokeWidth:2.4,strokeLinejoin:"round",curve:"catmull-rom"}),
    Plot.line(shockRows,{x:"x",y:"y",z:"id",stroke:black,strokeWidth:2.8,strokeLinejoin:"round",curve:"catmull-rom"}),
    Plot.dot(speckRows,{x:"x",y:"y",r:2.4,fill:black}),
    Plot.ruleX(minorTicks,{y1:0.1,y2:0.1084,stroke:black,strokeWidth:2}),
    Plot.ruleY(minorTicks,{x1:0.1,x2:0.1084,stroke:black,strokeWidth:2}),
    Plot.ruleX(majorTicks,{y1:0.1,y2:0.1149,stroke:black,strokeWidth:11}),
    Plot.ruleY(majorTicks,{x1:0.1,x2:0.1149,stroke:black,strokeWidth:11}),
    Plot.ruleY([0.1],{x1:0.1,x2:0.8,stroke:black,strokeWidth:10,strokeLinecap:"square"}),
    Plot.ruleX([0.1],{y1:0.1,y2:0.8,stroke:black,strokeWidth:11,strokeLinecap:"square"}),
    Plot.axisX({anchor:"bottom",ticks:majorTicks,tickSize:0,tickPadding:22,fontSize:77,tickFormat:d=>d.toFixed(1),label:null,color:black}),
    Plot.axisY({anchor:"left",ticks:majorTicks,tickSize:0,tickPadding:30,fontSize:77,tickFormat:d=>d.toFixed(1),label:null,color:black}),
    Plot.text(["X"],{frameAnchor:"bottom",dy:143,fontSize:86,fontWeight:"bold",fill:black,textAnchor:"middle",lineAnchor:"middle"}),
    Plot.text(["Y"],{frameAnchor:"left",dx:-210,fontSize:86,fontWeight:"bold",fill:black,rotate:-90,textAnchor:"middle",lineAnchor:"middle"})
  ]
});
document.getElementById("chart").appendChild(chart);
</script></body></html>
